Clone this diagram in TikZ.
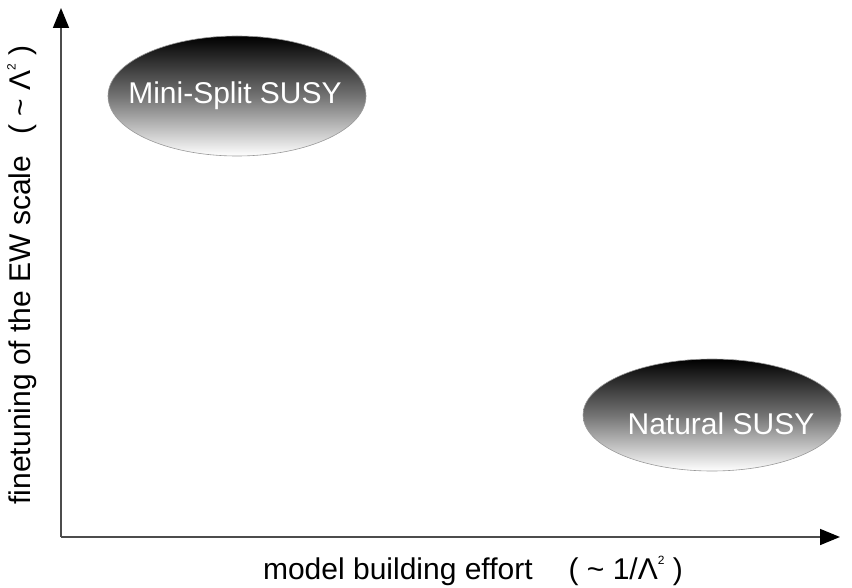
\documentclass[tikz,border=0pt]{standalone}
\usepackage{fontspec}
\setmainfont{Liberation Sans}
\usetikzlibrary{shapes.geometric,arrows.meta}
\newcommand{\sqsup}{\raisebox{0.5em}{\fontsize{12}{12}\selectfont 2}}
\tikzset{
  axis/.style={draw=black!70, line width=1.6pt, -{Triangle[length=20pt,width=16pt,color=black]}},
  blob/.style={ellipse, draw=black!40, line width=0.6pt, top color=black, bottom color=white, middle color=black!55, inner sep=0pt},
  blobtext/.style={text=white, font=\fontsize{30}{36}\selectfont},
  axlabel/.style={font=\fontsize{30}{36}\selectfont, text=black}
}
\begin{document}
\begin{tikzpicture}[x=1pt,y=-1pt]
\useasboundingbox (0,0) rectangle (852,588);
\coordinate (O) at (61,537);
\coordinate (ytip) at (61,8);
\coordinate (xtip) at (840,537);
\draw[axis] (O) -- (ytip);
\draw[axis] (O) -- (xtip);
\node[blob, minimum width=258pt, minimum height=120pt] (mini) at (237,96) {};
\node[blobtext] (minit) at (235,96) {Mini-Split SUSY};
\node[blob, minimum width=258pt, minimum height=112pt] (nat) at (712,415) {};
\node[blobtext] (natt) at (721,424) {Natural SUSY};
\node[axlabel] (xl) at (473,571) {model building effort\hspace{1.2em}( \char"007E{} 1/Λ\sqsup{} )};
\node[axlabel, rotate=90] (yl) at (22,275) {finetuning of the EW scale\hspace{0.7em}( \char"007E{} Λ\sqsup{} )};
\end{tikzpicture}
\end{document}
